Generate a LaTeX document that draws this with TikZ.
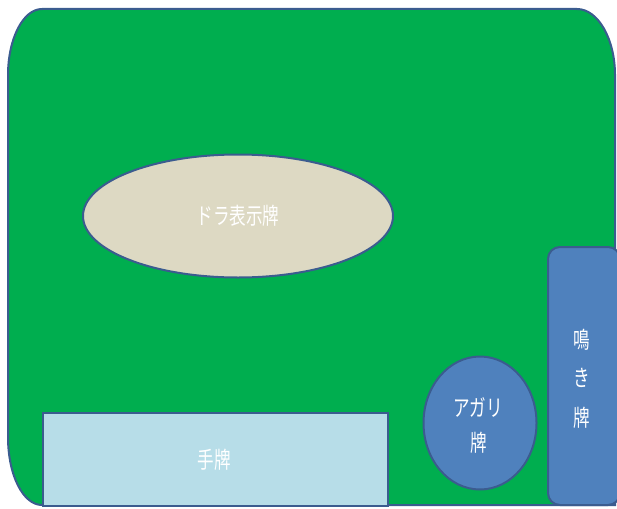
\documentclass[tikz,border=0pt]{standalone}
\usepackage{fontspec}
\usetikzlibrary{shapes.geometric}
\newfontfamily\jp{Noto Sans CJK JP}
\definecolor{felt}{HTML}{00AE4F}
\definecolor{edge}{HTML}{3B5C8F}
\definecolor{dorafill}{HTML}{DDD9C3}
\definecolor{handfill}{HTML}{B7DDE8}
\definecolor{tilefill}{HTML}{4F81BD}
\tikzset{
  shapeline/.style={draw=edge, line width=2pt},
  tiletext/.style={text=white, font=\jp\fontsize{23}{26}\selectfont, xscale=0.72, inner sep=0pt}
}
\begin{document}
\begin{tikzpicture}[x=1pt,y=-1pt]
\useasboundingbox (0,0) rectangle (617,508);
% table
\path[shapeline, fill=felt] (42,9) -- (577,9)
  .. controls (598,9) and (615,39) .. (615,75) -- (615,505) -- (42,505)
  .. controls (23,505) and (8,475) .. (8,437) -- (8,75)
  .. controls (8,39) and (23,9) .. (42,9) -- cycle;
% dora ellipse
\node[shapeline, fill=dorafill, ellipse, minimum width=310, minimum height=123, inner sep=0pt] (dora) at (238,216) {};
\node[tiletext] (doratext) at (dora.center) {ドラ表示牌};
% hand
\node[shapeline, fill=handfill, rectangle, minimum width=345, minimum height=93, inner sep=0pt, anchor=north west] (hand) at (42,412) {};
\node[tiletext] (handtext) at (214,460) {手牌};
% agari
\node[shapeline, fill=tilefill, ellipse, minimum width=113, minimum height=133, inner sep=0pt] (agari) at (480,423) {};
\node[tiletext] (agaritext) at (478,407) {アガリ};
\node[tiletext] (agaritext2) at (479,443) {牌};
% naki
\path[shapeline, fill=tilefill, rounded corners=12] (548,505) -- (548,247) -- (620,247) -- (620,505) -- cycle;
\node[tiletext] (naki1) at (582,340) {鳴};
\node[tiletext] (naki2) at (582,378) {き};
\node[tiletext] (naki3) at (582,418) {牌};
\end{tikzpicture}
\end{document}
